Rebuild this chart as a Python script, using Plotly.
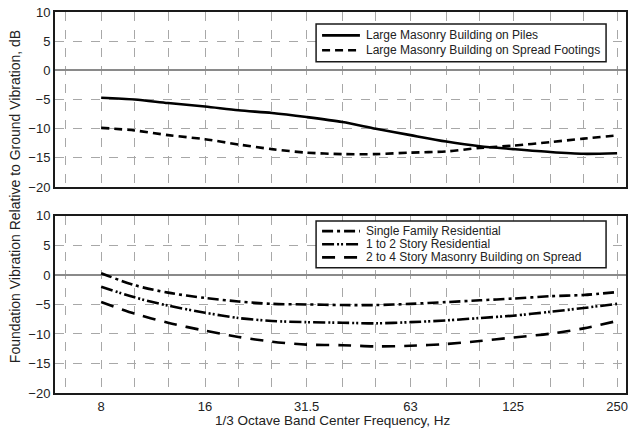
import math
import plotly.graph_objects as go
from plotly.subplots import make_subplots

# 1/3 octave band centre frequencies (Hz)
bands = [6.3, 8, 10, 12.5, 16, 20, 25, 31.5, 40, 50, 63, 80, 100, 125, 160, 200, 250]
band_labels = ["", "8", "", "", "16", "", "", "31.5", "", "", "63", "", "", "125", "", "", "250"]

freqs = [8, 10, 12.5, 16, 20, 25, 31.5, 40, 50, 63, 80, 100, 125, 160, 200, 250]

# Upper panel: large masonry buildings
piles = [-4.7, -5.0, -5.6, -6.2, -6.85, -7.3, -8.0, -8.85, -10.0, -11.1, -12.2, -13.0, -13.5, -14.0, -14.3, -14.2]
spread_footings = [-9.85, -10.3, -11.1, -11.8, -12.7, -13.5, -14.1, -14.35, -14.35, -14.1, -13.9, -13.3, -12.9, -12.3, -11.7, -11.15]

# Lower panel: residential / small masonry
single_family = [0.3, -1.75, -3.0, -3.9, -4.5, -4.9, -5.0, -5.1, -5.1, -4.9, -4.6, -4.3, -4.0, -3.6, -3.4, -2.9]
one_two_story = [-2.0, -3.8, -5.2, -6.4, -7.3, -7.8, -8.0, -8.1, -8.2, -8.0, -7.7, -7.3, -6.9, -6.25, -5.6, -4.9]
two_four_story = [-4.6, -6.55, -8.1, -9.45, -10.5, -11.3, -11.8, -11.9, -12.1, -12.0, -11.7, -11.2, -10.6, -9.95, -9.05, -7.8]

y_ticks = [-20, -15, -10, -5, 0, 5, 10]

FONT = "Liberation Sans, Arial, Helvetica, sans-serif"
W, H = 633, 432
M_L, M_R, M_T, M_B = 55, 5, 10, 39
PW, PH = W - M_L - M_R, H - M_T - M_B

# series: (values, name, dash, panel)
series = [
    (piles, "Large Masonry Building on Piles", "solid", 1),
    (spread_footings, "Large Masonry Building on Spread Footings", "8px,5px", 1),
    (single_family, "Single Family Residential", "11px,4px,3px,4px", 2),
    (one_two_story, "1 to 2 Story Residential", "12px,3px,2px,2px,2px,3px", 2),
    (two_four_story, "2 to 4 Story Masonry Building on Spread", "13px,9px", 2),
]

fig = make_subplots(rows=2, cols=1, shared_xaxes=False, vertical_spacing=0.076)

for vals, name, dash, row in series:
    fig.add_trace(
        go.Scatter(
            x=freqs, y=vals, name=name, mode="lines", showlegend=False,
            line=dict(color="black", width=2.6, dash=dash, shape="spline", smoothing=0.8),
        ),
        row=row, col=1,
    )

xrange = [math.log10(5.88), math.log10(265.3)]
for r in (1, 2):
    fig.update_xaxes(
        type="log", range=xrange,
        tickmode="array", tickvals=bands, ticktext=band_labels,
        showticklabels=(r == 2), ticks="",
        showgrid=True, gridcolor="#a8a8a8", gridwidth=1, griddash="dash",
        showline=True, linecolor="#1a1a1a", linewidth=2, mirror=True,
        tickfont=dict(family=FONT, size=13, color="#222"),
        row=r, col=1,
    )
    fig.update_yaxes(
        range=[-20, 10], tickmode="array", tickvals=y_ticks,
        showgrid=True, gridcolor="#a8a8a8", gridwidth=1, griddash="dash",
        zeroline=True, zerolinecolor="#8a8a8a", zerolinewidth=1.5,
        showline=True, linecolor="#1a1a1a", linewidth=2, mirror=True,
        ticks="", ticklen=0,
        tickfont=dict(family=FONT, size=13, color="#222"),
        row=r, col=1,
    )

fig.update_yaxes(domain=[0.5405, 1.0], row=1, col=1)
fig.update_yaxes(domain=[0.0, 0.4648], row=2, col=1)


def px(x):
    return (x - M_L) / PW


def py(y):
    return (H - M_B - y) / PH


# Boxed key for each panel: (left, top, right, bottom, row pitch) in pixels
key_boxes = {1: (317, 22, 608, 60, 15.0), 2: (317, 220, 608, 267, 13.2)}
shapes, annotations = [], []
for panel, (x0, y0, x1, y1, pitch) in key_boxes.items():
    shapes.append(dict(type="rect", xref="paper", yref="paper",
                       x0=px(x0), x1=px(x1), y0=py(y0), y1=py(y1),
                       line=dict(color="#1a1a1a", width=1.5), fillcolor="white", layer="above"))
    entries = [s for s in series if s[3] == panel]
    first = (y0 + y1) / 2 - pitch * (len(entries) - 1) / 2
    for i, (_, name, dash, _) in enumerate(entries):
        yc = first + i * pitch
        shapes.append(dict(type="line", xref="paper", yref="paper",
                           x0=px(x0 + 6), x1=px(x0 + 44), y0=py(yc), y1=py(yc),
                           line=dict(color="black", width=2.6, dash=dash), layer="above"))
        annotations.append(dict(text=name, xref="paper", yref="paper",
                                x=px(x0 + 48), y=py(yc), xanchor="left", yanchor="middle",
                                showarrow=False, font=dict(family=FONT, size=12, color="#222")))

annotations += [
    dict(
        text="Foundation Vibration Relative to Ground Vibration, dB",
        xref="paper", yref="paper", x=px(15), y=py(196),
        xanchor="center", yanchor="middle", textangle=-90, showarrow=False,
        font=dict(family=FONT, size=14, color="#222"),
    ),
    dict(
        text="1/3 Octave Band Center Frequency, Hz",
        xref="paper", yref="paper", x=px(334), y=py(421),
        xanchor="center", yanchor="middle", showarrow=False,
        font=dict(family=FONT, size=13.5, color="#222"),
    ),
]

fig.update_layout(
    width=W, height=H,
    margin=dict(l=M_L, r=M_R, t=M_T, b=M_B),
    paper_bgcolor="white", plot_bgcolor="white",
    font=dict(family=FONT, size=13, color="#222"),
    showlegend=False,
    shapes=shapes,
    annotations=annotations,
)

fig.write_html("out.html")
